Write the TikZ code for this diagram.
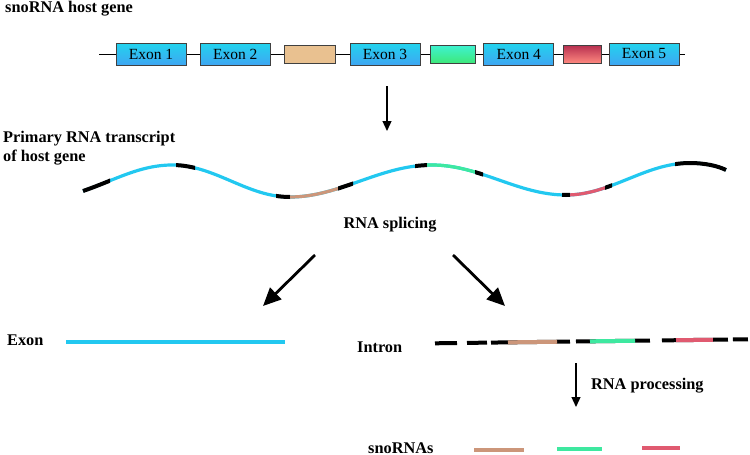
\documentclass[tikz,border=0pt]{standalone}
\usepackage{fontspec}
\setmainfont{Liberation Serif}
\usetikzlibrary{arrows.meta,calc}
\definecolor{exontop}{HTML}{22D4EE}
\definecolor{exonbot}{HTML}{3EA6F2}
\definecolor{tanfill}{HTML}{E9C190}
\definecolor{greentop}{HTML}{3EF2D0}
\definecolor{greenbot}{HTML}{3EE878}
\definecolor{redtop}{HTML}{B83050}
\definecolor{redbot}{HTML}{FF8A80}
\definecolor{rnacyan}{HTML}{22C8F0}
\definecolor{rnatan}{HTML}{CC967A}
\definecolor{rnagreen}{HTML}{3EE8A0}
\definecolor{rnared}{HTML}{E05A70}
\definecolor{boxedge}{HTML}{404040}
\begin{document}
\begin{tikzpicture}[x=1pt,y=-1pt,
  lbl/.style={inner sep=0pt,font=\fontsize{16.3}{19}\selectfont\bfseries},
  genebox/.style={draw=boxedge,line width=0.8pt,inner sep=0pt,minimum height=22pt,font=\fontsize{15.5}{18}\selectfont},
  exonbox/.style={genebox,top color=exontop,bottom color=exonbot,minimum width=70pt},
  intronbox/.style={genebox,minimum height=18pt},
  bigarrow/.style={line width=2.8pt,-{Triangle[length=18pt,width=16pt]}},
  smallarrow/.style={line width=1.3pt,-{Triangle[length=10pt,width=9pt]}}]
\useasboundingbox (0,0) rectangle (750,455);
\def\wavepath{(83,191) .. controls (115,180) and (140,165) .. (172,165)
  .. controls (215,165) and (247,197) .. (290,197)
  .. controls (340,197) and (380,165) .. (432,165)
  .. controls (480,165) and (518,195) .. (566,195)
  .. controls (611,195) and (645,163) .. (690,163)
  .. controls (705,163) and (718,166) .. (726,170)}
% titles
\node[lbl,anchor=base west] (t1) at (5,12.7) {snoRNA host gene};
\node[lbl,anchor=base west] (t2) at (3,142) {Primary RNA transcript};
\node[lbl,anchor=base west] (t3) at (3,161.5) {of host gene};
% gene
\coordinate (gl) at (99,54.5);
\coordinate (gr) at (685,54.5);
\draw[line width=0.8pt] (gl) -- (gr);
\node[exonbox] (e1) at (151,54) {Exon 1};
\node[exonbox] (e2) at (235.2,54) {Exon 2};
\node[intronbox,fill=tanfill,minimum width=51.4pt] (i1) at (310,54.4) {};
\node[exonbox] (e3) at (385,54) {Exon 3};
\node[intronbox,top color=greentop,bottom color=greenbot,minimum width=44.6pt] (i2) at (453,54.4) {};
\node[exonbox] (e4) at (518.8,54) {Exon 4};
\node[intronbox,top color=redtop,bottom color=redbot,minimum width=38.4pt] (i3) at (582.5,54.4) {};
\node[exonbox] (e5) at (644,54) {Exon 5};
% arrow 1
\coordinate (a1s) at (387,86);
\coordinate (a1e) at (387,131);
\draw[smallarrow] (a1s) -- (a1e);
% wave
\draw[rnacyan,line width=3.2pt] \wavepath;
\foreach \a/\b/\c/\w in {75/110/black/4, 176/195/black/4, 276/290/black/4, 290/338/rnatan/3.2,
  338/353/black/4, 415/427/black/4, 427/475/rnagreen/3.2, 475/483/black/4, 562/570/black/4,
  570/605/rnared/3.2, 605/612/black/4, 675/735/black/4}{
  \begin{scope}
    \clip (\a,150) rectangle (\b,210);
    \draw[color=\c,line width=\w pt] \wavepath;
  \end{scope}
}
\node[lbl,anchor=base] (splice) at (390,228.5) {RNA splicing};
% splicing arrows
\coordinate (s1) at (315,255);
\coordinate (s1e) at (263,306);
\coordinate (s2) at (453,255);
\coordinate (s2e) at (505,306);
\draw[bigarrow] (s1) -- (s1e);
\draw[bigarrow] (s2) -- (s2e);
% exon
\node[lbl,anchor=base west] (exon) at (7,345) {Exon};
\coordinate (xl) at (66,342);
\coordinate (xr) at (285,342);
\draw[rnacyan,line width=4pt] (xl) -- (xr);
% intron
\node[lbl,anchor=base west] (intron) at (357,352) {Intron};
\coordinate (il) at (435,343.3);
\coordinate (ir) at (748,339.3);
\draw[black,line width=4pt,dash pattern=on 22pt off 10pt on 20pt off 4pt on 79pt off 6pt on 74pt off 12pt on 66pt off 5pt on 15pt off 20pt] (il) -- (ir);
\draw[rnatan,line width=4pt] ($(il)!0.2332!(ir)$) -- ($(il)!0.3898!(ir)$);
\draw[rnagreen,line width=4pt] ($(il)!0.4952!(ir)$) -- ($(il)!0.639!(ir)$);
\draw[rnared,line width=4pt] ($(il)!0.77!(ir)$) -- ($(il)!0.888!(ir)$);
% processing
\coordinate (p1) at (576,363);
\coordinate (p1e) at (576,407);
\draw[smallarrow] (p1) -- (p1e);
\node[lbl,anchor=base west] (proc) at (591,389.5) {RNA processing};
% snoRNAs
\node[lbl,anchor=base west] (sno) at (368,453) {snoRNAs};
\coordinate (n1l) at (474,449.7); \coordinate (n1r) at (524,449.7);
\coordinate (n2l) at (557,448.7); \coordinate (n2r) at (602,448.7);
\coordinate (n3l) at (642,447.7); \coordinate (n3r) at (680,447.7);
\draw[rnatan,line width=4pt] (n1l) -- (n1r);
\draw[rnagreen,line width=4pt] (n2l) -- (n2r);
\draw[rnared,line width=4pt] (n3l) -- (n3r);
\end{tikzpicture}
\end{document}
